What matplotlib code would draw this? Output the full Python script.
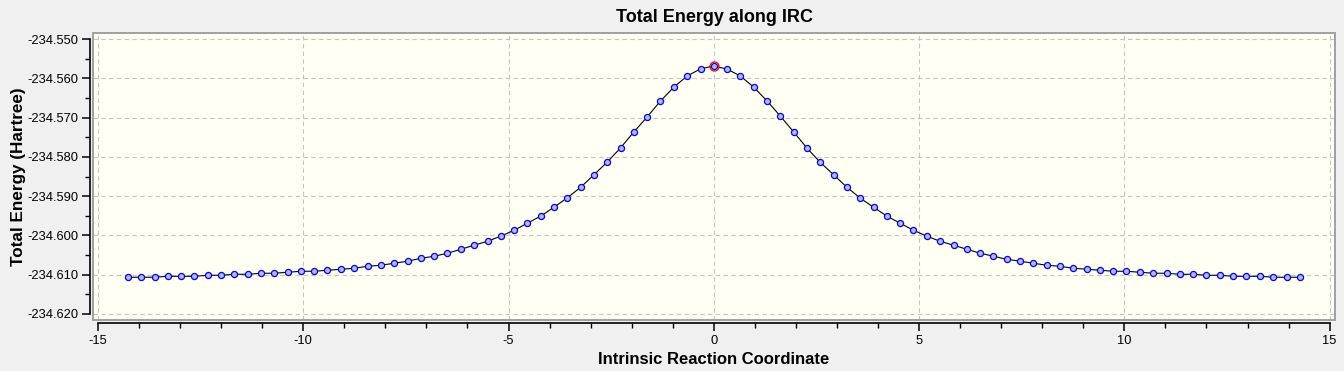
import matplotlib
matplotlib.use('Agg')
import matplotlib.pyplot as plt
from matplotlib.patches import Rectangle
from matplotlib.ticker import MultipleLocator, FormatStrFormatter

# IRC path: reaction coordinate and total energy (Hartree)
irc_x = [-14.27, -13.95, -13.62, -13.30, -12.97, -12.65, -12.32, -12.00, -11.68, -11.35,
         -11.03, -10.70, -10.38, -10.05, -9.73, -9.41, -9.08, -8.76, -8.43, -8.11,
         -7.78, -7.46, -7.13, -6.81, -6.49, -6.16, -5.84, -5.51, -5.19, -4.86,
         -4.54, -4.22, -3.89, -3.57, -3.24, -2.92, -2.59, -2.27, -1.95, -1.62,
         -1.30, -0.97, -0.65, -0.32, 0.00, 0.32, 0.65, 0.97, 1.30, 1.62,
         1.95, 2.27, 2.59, 2.92, 3.24, 3.57, 3.89, 4.22, 4.54, 4.86,
         5.19, 5.51, 5.84, 6.16, 6.49, 6.81, 7.13, 7.46, 7.78, 8.11,
         8.43, 8.76, 9.08, 9.41, 9.73, 10.05, 10.38, 10.70, 11.03, 11.35,
         11.68, 12.00, 12.32, 12.65, 12.97, 13.30, 13.62, 13.95, 14.27]

irc_energy = [-234.61065, -234.61065, -234.61065, -234.61040, -234.61040, -234.61040,
              -234.61014, -234.61014, -234.60989, -234.60989, -234.60963, -234.60963,
              -234.60938, -234.60912, -234.60912, -234.60887, -234.60861, -234.60836,
              -234.60785, -234.60759, -234.60708, -234.60657, -234.60581, -234.60530,
              -234.60454, -234.60352, -234.60250, -234.60148, -234.60020, -234.59867,
              -234.59689, -234.59511, -234.59281, -234.59044, -234.58772, -234.58458,
              -234.58127, -234.57770, -234.57370, -234.56980, -234.56580, -234.56223,
              -234.55943, -234.55757,
              -234.55688,
              -234.55765, -234.55943, -234.56223, -234.56580, -234.56962, -234.57370,
              -234.57778, -234.58135, -234.58458, -234.58772, -234.59052, -234.59281,
              -234.59511, -234.59689, -234.59867, -234.60020, -234.60148, -234.60250,
              -234.60352, -234.60454, -234.60530, -234.60606, -234.60657, -234.60708,
              -234.60759, -234.60785, -234.60836, -234.60861, -234.60887, -234.60912,
              -234.60912, -234.60938, -234.60963, -234.60963, -234.60989, -234.60989,
              -234.61014, -234.61014, -234.61040, -234.61040, -234.61040, -234.61065,
              -234.61065, -234.61065]

x_ticks = [-15, -10, -5, 0, 5, 10, 15]
y_ticks = [-234.620, -234.610, -234.600, -234.590, -234.580, -234.570, -234.560, -234.550]

plt.rcParams['font.family'] = ['Liberation Sans', 'DejaVu Sans']
plt.rcParams['axes.unicode_minus'] = False

W, H = 1344, 371
fig = plt.figure(figsize=(W / 100, H / 100), dpi=100, facecolor='#f0f0f0')
# plot frame in pixels: left 93, right 1335, top 33, bottom 320
ax = fig.add_axes([93 / W, 1 - 320 / H, (1335 - 93) / W, (320 - 33) / H])
ax.set_facecolor('#fffff4')

ax.plot(irc_x, irc_energy, color='black', lw=0.8, marker='o', ms=4.4,
        mfc='#b4bccc', mec='#0000ff', mew=0.9, zorder=3)

# transition state (highest point) gets a red ring
ts = irc_energy.index(max(irc_energy))
ax.plot(irc_x[ts], irc_energy[ts], marker='o', ms=6.5, mfc='none',
        mec='red', mew=0.9, zorder=4)

ax.set_xlim(-15.12, 15.13)
ax.set_ylim(-234.62153, -234.54847)

ax.set_xticks(x_ticks)
ax.set_yticks(y_ticks)
ax.xaxis.set_minor_locator(MultipleLocator(1))
ax.yaxis.set_minor_locator(MultipleLocator(0.005))
ax.yaxis.set_major_formatter(FormatStrFormatter('%.3f'))

ax.grid(True, which='major', color='#c4c4c4', ls=(0, (4, 3)), lw=0.8)
ax.set_axisbelow(True)

# axis lines sit just outside the gray frame, like GaussView
for side in ['top', 'right']:
    ax.spines[side].set_visible(False)
ax.spines['left'].set_position(('outward', 2.2))
ax.spines['bottom'].set_position(('outward', 2.0))
ax.spines['left'].set_bounds(y_ticks[0], y_ticks[-1])
ax.spines['bottom'].set_bounds(x_ticks[0], x_ticks[-1])
ax.spines['left'].set_linewidth(1.2)
ax.spines['bottom'].set_linewidth(1.2)

ax.add_patch(Rectangle((0, 0), 1, 1, transform=ax.transAxes, fill=False,
                       edgecolor='#a0a0a0', lw=1.4, clip_on=False, zorder=5))

ax.tick_params(which='major', direction='out', length=6, width=1.1,
               labelsize=9.3, colors='black', pad=2.5)
ax.tick_params(which='minor', direction='out', length=3.6, width=1.0)

ax.set_title('Total Energy along IRC', fontsize=13, fontweight='bold', pad=8)
ax.set_xlabel('Intrinsic Reaction Coordinate', fontsize=12, fontweight='bold', labelpad=4)
ax.set_ylabel('Total Energy (Hartree)', fontsize=12.3, fontweight='bold', labelpad=1)

fig.savefig('out.png', dpi=100, facecolor=fig.get_facecolor())
